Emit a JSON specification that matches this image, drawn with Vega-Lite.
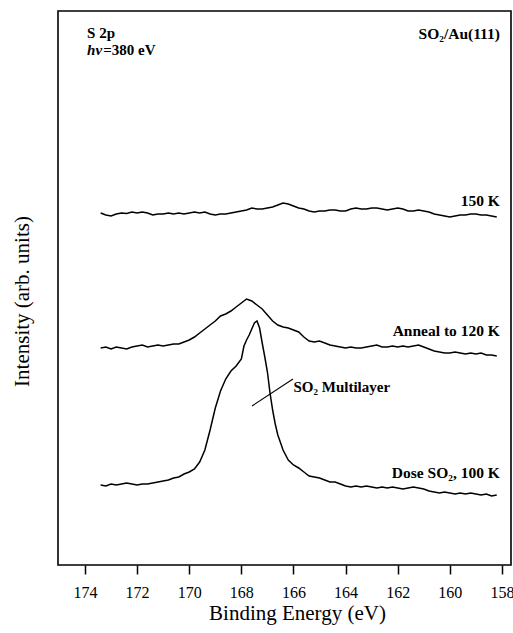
{
  "$schema": "https://vega.github.io/schema/vega-lite/v6.json",
  "autosize": "none",
  "width": 453,
  "height": 554,
  "padding": {"left": 58, "top": 11, "right": 2, "bottom": 68},
  "background": "white",
  "config": {
    "view": {"stroke": "black", "strokeWidth": 1.6},
    "font": "Liberation Serif"
  },
  "datasets": {
    "spectra": [
      {"series":"150 K","energy":173.4,"intensity":352},{"series":"150 K","energy":173.2,"intensity":350},{"series":"150 K","energy":173.0,"intensity":349},{"series":"150 K","energy":172.8,"intensity":351},{"series":"150 K","energy":172.6,"intensity":352},{"series":"150 K","energy":172.4,"intensity":351.5},{"series":"150 K","energy":172.2,"intensity":353},{"series":"150 K","energy":172.0,"intensity":352},{"series":"150 K","energy":171.8,"intensity":353},{"series":"150 K","energy":171.6,"intensity":352},{"series":"150 K","energy":171.4,"intensity":350},{"series":"150 K","energy":171.2,"intensity":351},{"series":"150 K","energy":171.0,"intensity":351},{"series":"150 K","energy":170.8,"intensity":352},{"series":"150 K","energy":170.6,"intensity":351},{"series":"150 K","energy":170.4,"intensity":352},{"series":"150 K","energy":170.2,"intensity":351},{"series":"150 K","energy":170.0,"intensity":352},{"series":"150 K","energy":169.8,"intensity":353},{"series":"150 K","energy":169.6,"intensity":352},{"series":"150 K","energy":169.4,"intensity":353},{"series":"150 K","energy":169.2,"intensity":351},{"series":"150 K","energy":169.0,"intensity":350},{"series":"150 K","energy":168.8,"intensity":351},{"series":"150 K","energy":168.6,"intensity":351},{"series":"150 K","energy":168.4,"intensity":352},{"series":"150 K","energy":168.2,"intensity":353},{"series":"150 K","energy":168.0,"intensity":354},{"series":"150 K","energy":167.8,"intensity":355},{"series":"150 K","energy":167.6,"intensity":357},{"series":"150 K","energy":167.4,"intensity":356},{"series":"150 K","energy":167.2,"intensity":356},{"series":"150 K","energy":167.0,"intensity":357},{"series":"150 K","energy":166.8,"intensity":358},{"series":"150 K","energy":166.6,"intensity":360},{"series":"150 K","energy":166.4,"intensity":362},{"series":"150 K","energy":166.2,"intensity":361},{"series":"150 K","energy":166.0,"intensity":359},{"series":"150 K","energy":165.8,"intensity":357},{"series":"150 K","energy":165.6,"intensity":356},{"series":"150 K","energy":165.4,"intensity":354},{"series":"150 K","energy":165.2,"intensity":353},{"series":"150 K","energy":165.0,"intensity":354},{"series":"150 K","energy":164.8,"intensity":354},{"series":"150 K","energy":164.6,"intensity":355},{"series":"150 K","energy":164.4,"intensity":355},{"series":"150 K","energy":164.2,"intensity":354},{"series":"150 K","energy":164.0,"intensity":354},{"series":"150 K","energy":163.8,"intensity":356},{"series":"150 K","energy":163.6,"intensity":357},{"series":"150 K","energy":163.4,"intensity":356},{"series":"150 K","energy":163.2,"intensity":356},{"series":"150 K","energy":163.0,"intensity":357},{"series":"150 K","energy":162.8,"intensity":357},{"series":"150 K","energy":162.6,"intensity":356},{"series":"150 K","energy":162.4,"intensity":355},{"series":"150 K","energy":162.2,"intensity":356},{"series":"150 K","energy":162.0,"intensity":357},{"series":"150 K","energy":161.8,"intensity":356},{"series":"150 K","energy":161.6,"intensity":354},{"series":"150 K","energy":161.4,"intensity":354},{"series":"150 K","energy":161.2,"intensity":355},{"series":"150 K","energy":161.0,"intensity":354},{"series":"150 K","energy":160.8,"intensity":353},{"series":"150 K","energy":160.6,"intensity":351},{"series":"150 K","energy":160.4,"intensity":350},{"series":"150 K","energy":160.2,"intensity":349},{"series":"150 K","energy":160.0,"intensity":348},{"series":"150 K","energy":159.8,"intensity":349},{"series":"150 K","energy":159.6,"intensity":350},{"series":"150 K","energy":159.4,"intensity":350},{"series":"150 K","energy":159.2,"intensity":351},{"series":"150 K","energy":159.0,"intensity":351},{"series":"150 K","energy":158.8,"intensity":350},{"series":"150 K","energy":158.6,"intensity":350},{"series":"150 K","energy":158.4,"intensity":349},{"series":"150 K","energy":158.2,"intensity":348},

      {"series":"Anneal","energy":173.4,"intensity":217},{"series":"Anneal","energy":173.2,"intensity":218},{"series":"Anneal","energy":173.0,"intensity":216},{"series":"Anneal","energy":172.8,"intensity":218},{"series":"Anneal","energy":172.6,"intensity":217},{"series":"Anneal","energy":172.4,"intensity":216},{"series":"Anneal","energy":172.2,"intensity":218},{"series":"Anneal","energy":172.0,"intensity":219},{"series":"Anneal","energy":171.8,"intensity":220},{"series":"Anneal","energy":171.6,"intensity":218},{"series":"Anneal","energy":171.4,"intensity":219},{"series":"Anneal","energy":171.2,"intensity":220},{"series":"Anneal","energy":171.0,"intensity":219},{"series":"Anneal","energy":170.8,"intensity":220},{"series":"Anneal","energy":170.6,"intensity":221},{"series":"Anneal","energy":170.4,"intensity":221},{"series":"Anneal","energy":170.2,"intensity":223},{"series":"Anneal","energy":170.0,"intensity":225},{"series":"Anneal","energy":169.8,"intensity":228},{"series":"Anneal","energy":169.6,"intensity":232},{"series":"Anneal","energy":169.4,"intensity":236},{"series":"Anneal","energy":169.2,"intensity":240},{"series":"Anneal","energy":169.0,"intensity":244},{"series":"Anneal","energy":168.8,"intensity":249},{"series":"Anneal","energy":168.6,"intensity":251},{"series":"Anneal","energy":168.4,"intensity":254},{"series":"Anneal","energy":168.2,"intensity":258},{"series":"Anneal","energy":168.0,"intensity":262},{"series":"Anneal","energy":167.8,"intensity":266},{"series":"Anneal","energy":167.6,"intensity":264},{"series":"Anneal","energy":167.4,"intensity":260},{"series":"Anneal","energy":167.2,"intensity":256},{"series":"Anneal","energy":167.0,"intensity":250},{"series":"Anneal","energy":166.8,"intensity":244},{"series":"Anneal","energy":166.6,"intensity":240},{"series":"Anneal","energy":166.4,"intensity":238},{"series":"Anneal","energy":166.2,"intensity":237},{"series":"Anneal","energy":166.0,"intensity":235},{"series":"Anneal","energy":165.8,"intensity":233},{"series":"Anneal","energy":165.6,"intensity":228},{"series":"Anneal","energy":165.4,"intensity":224},{"series":"Anneal","energy":165.2,"intensity":223},{"series":"Anneal","energy":165.0,"intensity":224},{"series":"Anneal","energy":164.8,"intensity":222},{"series":"Anneal","energy":164.6,"intensity":220},{"series":"Anneal","energy":164.4,"intensity":219},{"series":"Anneal","energy":164.2,"intensity":218},{"series":"Anneal","energy":164.0,"intensity":217},{"series":"Anneal","energy":163.8,"intensity":218},{"series":"Anneal","energy":163.6,"intensity":217},{"series":"Anneal","energy":163.4,"intensity":217},{"series":"Anneal","energy":163.2,"intensity":218},{"series":"Anneal","energy":163.0,"intensity":219},{"series":"Anneal","energy":162.8,"intensity":220},{"series":"Anneal","energy":162.6,"intensity":218},{"series":"Anneal","energy":162.4,"intensity":218},{"series":"Anneal","energy":162.2,"intensity":219},{"series":"Anneal","energy":162.0,"intensity":218},{"series":"Anneal","energy":161.8,"intensity":219},{"series":"Anneal","energy":161.6,"intensity":218},{"series":"Anneal","energy":161.4,"intensity":219},{"series":"Anneal","energy":161.2,"intensity":220},{"series":"Anneal","energy":161.0,"intensity":218},{"series":"Anneal","energy":160.8,"intensity":216},{"series":"Anneal","energy":160.6,"intensity":214},{"series":"Anneal","energy":160.4,"intensity":213},{"series":"Anneal","energy":160.2,"intensity":212},{"series":"Anneal","energy":160.0,"intensity":212},{"series":"Anneal","energy":159.8,"intensity":213},{"series":"Anneal","energy":159.6,"intensity":212},{"series":"Anneal","energy":159.4,"intensity":211},{"series":"Anneal","energy":159.2,"intensity":212},{"series":"Anneal","energy":159.0,"intensity":211},{"series":"Anneal","energy":158.8,"intensity":212},{"series":"Anneal","energy":158.6,"intensity":210},{"series":"Anneal","energy":158.4,"intensity":210},{"series":"Anneal","energy":158.2,"intensity":209},

      {"series":"Dose","energy":173.4,"intensity":80},{"series":"Dose","energy":173.2,"intensity":79},{"series":"Dose","energy":173.0,"intensity":81},{"series":"Dose","energy":172.8,"intensity":80},{"series":"Dose","energy":172.6,"intensity":81},{"series":"Dose","energy":172.4,"intensity":82},{"series":"Dose","energy":172.2,"intensity":81},{"series":"Dose","energy":172.0,"intensity":80},{"series":"Dose","energy":171.8,"intensity":81},{"series":"Dose","energy":171.6,"intensity":81},{"series":"Dose","energy":171.4,"intensity":82},{"series":"Dose","energy":171.2,"intensity":83},{"series":"Dose","energy":171.0,"intensity":84},{"series":"Dose","energy":170.8,"intensity":85},{"series":"Dose","energy":170.6,"intensity":87},{"series":"Dose","energy":170.4,"intensity":88},{"series":"Dose","energy":170.2,"intensity":91},{"series":"Dose","energy":170.0,"intensity":93},{"series":"Dose","energy":169.8,"intensity":96},{"series":"Dose","energy":169.6,"intensity":103},{"series":"Dose","energy":169.4,"intensity":115},{"series":"Dose","energy":169.2,"intensity":135},{"series":"Dose","energy":169.0,"intensity":157},{"series":"Dose","energy":168.8,"intensity":174},{"series":"Dose","energy":168.6,"intensity":186},{"series":"Dose","energy":168.4,"intensity":194},{"series":"Dose","energy":168.2,"intensity":199},{"series":"Dose","energy":168.0,"intensity":206},{"series":"Dose","energy":167.9,"intensity":219},{"series":"Dose","energy":167.8,"intensity":225},{"series":"Dose","energy":167.7,"intensity":230},{"series":"Dose","energy":167.6,"intensity":236},{"series":"Dose","energy":167.5,"intensity":242},{"series":"Dose","energy":167.4,"intensity":244},{"series":"Dose","energy":167.3,"intensity":237},{"series":"Dose","energy":167.2,"intensity":222},{"series":"Dose","energy":167.1,"intensity":208},{"series":"Dose","energy":167.0,"intensity":193},{"series":"Dose","energy":166.9,"intensity":172},{"series":"Dose","energy":166.8,"intensity":155},{"series":"Dose","energy":166.7,"intensity":141},{"series":"Dose","energy":166.6,"intensity":130},{"series":"Dose","energy":166.4,"intensity":115},{"series":"Dose","energy":166.2,"intensity":105},{"series":"Dose","energy":166.0,"intensity":100},{"series":"Dose","energy":165.8,"intensity":97},{"series":"Dose","energy":165.6,"intensity":93},{"series":"Dose","energy":165.4,"intensity":89},{"series":"Dose","energy":165.2,"intensity":88},{"series":"Dose","energy":165.0,"intensity":87},{"series":"Dose","energy":164.8,"intensity":85},{"series":"Dose","energy":164.6,"intensity":83},{"series":"Dose","energy":164.4,"intensity":83},{"series":"Dose","energy":164.2,"intensity":81},{"series":"Dose","energy":164.0,"intensity":79},{"series":"Dose","energy":163.8,"intensity":78},{"series":"Dose","energy":163.6,"intensity":79},{"series":"Dose","energy":163.4,"intensity":78},{"series":"Dose","energy":163.2,"intensity":79},{"series":"Dose","energy":163.0,"intensity":78},{"series":"Dose","energy":162.8,"intensity":77},{"series":"Dose","energy":162.6,"intensity":78},{"series":"Dose","energy":162.4,"intensity":77},{"series":"Dose","energy":162.2,"intensity":78},{"series":"Dose","energy":162.0,"intensity":77},{"series":"Dose","energy":161.8,"intensity":76},{"series":"Dose","energy":161.6,"intensity":77},{"series":"Dose","energy":161.4,"intensity":78},{"series":"Dose","energy":161.2,"intensity":77},{"series":"Dose","energy":161.0,"intensity":76},{"series":"Dose","energy":160.8,"intensity":74},{"series":"Dose","energy":160.6,"intensity":73},{"series":"Dose","energy":160.4,"intensity":72},{"series":"Dose","energy":160.2,"intensity":73},{"series":"Dose","energy":160.0,"intensity":72},{"series":"Dose","energy":159.8,"intensity":71},{"series":"Dose","energy":159.6,"intensity":72},{"series":"Dose","energy":159.4,"intensity":71},{"series":"Dose","energy":159.2,"intensity":72},{"series":"Dose","energy":159.0,"intensity":71},{"series":"Dose","energy":158.8,"intensity":70},{"series":"Dose","energy":158.6,"intensity":71},{"series":"Dose","energy":158.4,"intensity":69},{"series":"Dose","energy":158.2,"intensity":70}
    ]
  },
  "layer": [
    {
      "data": {"name": "spectra"},
      "mark": {"type": "line", "color": "black", "strokeWidth": 1.5, "interpolate": "linear"},
      "encoding": {
        "x": {
          "field": "energy", "type": "quantitative",
          "scale": {"domain": [157.653, 175.036], "reverse": true, "nice": false, "zero": false},
          "axis": {
            "values": [158,159,160,161,162,163,164,165,166,167,168,169,170,171,172,173,174],
            "labelExpr": "datum.value % 2 === 0 ? datum.label : ''",
            "domain": false,
            "grid": false,
            "ticks": true,
            "tickColor": "black",
            "tickWidth": 1.5,
            "tickSize": {"condition": {"test": "datum.value % 2 === 0", "value": 9}, "value": 4},
            "labelFont": "Liberation Serif",
            "labelFontSize": 16,
            "labelColor": "black",
            "labelPadding": 10,
            "title": "Binding Energy (eV)",
            "titleFont": "Liberation Serif",
            "titleFontSize": 21,
            "titleFontWeight": "normal",
            "titleColor": "black",
            "titleX": 239,
            "titleY": 54,
            "titleBaseline": "alphabetic"
          }
        },
        "y": {
          "field": "intensity", "type": "quantitative",
          "scale": {"domain": [0, 554], "nice": false, "zero": false},
          "axis": {
            "domain": false, "ticks": false, "labels": false, "grid": false,
            "title": "Intensity (arb. units)",
            "titleFont": "Liberation Serif",
            "titleFontSize": 21,
            "titleFontWeight": "normal",
            "titleColor": "black",
            "titleAngle": -90,
            "titleX": -36,
            "titleY": 290,
            "titleAlign": "center",
            "titleBaseline": "middle"
          }
        },
        "detail": {"field": "series"}
      }
    },
    {
      "data": {"values": [
        {"energy": 167.59, "intensity": 159},
        {"energy": 166.02, "intensity": 186}
      ]},
      "mark": {"type": "line", "color": "black", "strokeWidth": 1.1},
      "encoding": {
        "x": {"field": "energy", "type": "quantitative"},
        "y": {"field": "intensity", "type": "quantitative"}
      }
    },
    {
      "data": {"values": [
        {"label": "150 K", "energy": 158.08, "intensity": 359},
        {"label": "Anneal to 120 K", "energy": 158.08, "intensity": 229},
        {"label": "Dose SO₂, 100 K", "energy": 158.08, "intensity": 87},
        {"label": "SO₂/Au(111)", "energy": 158.08, "intensity": 526}
      ]},
      "mark": {"type": "text", "align": "right", "baseline": "alphabetic", "font": "Liberation Serif", "fontSize": 15.5, "fontWeight": "bold", "color": "black"},
      "encoding": {
        "x": {"field": "energy", "type": "quantitative"},
        "y": {"field": "intensity", "type": "quantitative"},
        "text": {"field": "label"}
      }
    },
    {
      "data": {"values": [
        {"label": "SO₂ Multilayer", "energy": 166.0, "intensity": 173},
        {"label": "S 2p", "energy": 173.92, "intensity": 527},
        {"label": "=380 eV", "energy": 173.3, "intensity": 510}
      ]},
      "mark": {"type": "text", "align": "left", "baseline": "alphabetic", "font": "Liberation Serif", "fontSize": 15, "fontWeight": "bold", "color": "black"},
      "encoding": {
        "x": {"field": "energy", "type": "quantitative"},
        "y": {"field": "intensity", "type": "quantitative"},
        "text": {"field": "label"}
      }
    },
    {
      "data": {"values": [
        {"label": "hν", "energy": 173.92, "intensity": 510}
      ]},
      "mark": {"type": "text", "align": "left", "baseline": "alphabetic", "font": "Liberation Serif", "fontSize": 15, "fontWeight": "bold", "fontStyle": "italic", "color": "black"},
      "encoding": {
        "x": {"field": "energy", "type": "quantitative"},
        "y": {"field": "intensity", "type": "quantitative"},
        "text": {"field": "label"}
      }
    }
  ]
}
